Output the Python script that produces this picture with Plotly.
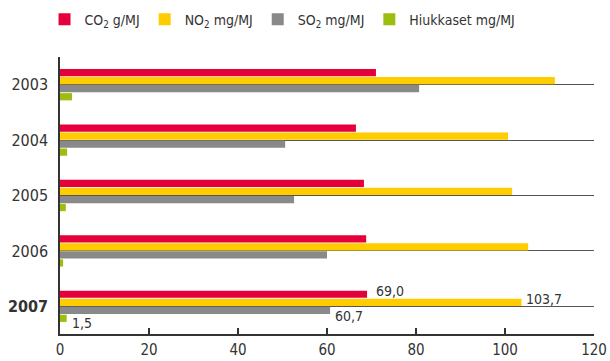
import plotly.graph_objects as go

years = ["2003", "2004", "2005", "2006", "2007"]
year_labels = ["2003", "2004", "2005", "2006", "<b>2007</b>"]
co2 = [71.0, 66.5, 68.3, 68.8, 69.0]
no2 = [111.2, 100.7, 101.6, 105.2, 103.7]
so2 = [80.7, 50.6, 52.6, 60.0, 60.7]
hiuk = [2.7, 1.6, 1.3, 0.7, 1.5]
series_names = ["CO<sub>2</sub> g/MJ", "NO<sub>2</sub> mg/MJ", "SO<sub>2</sub> mg/MJ", "Hiukkaset mg/MJ"]
colors = ["#E4003B", "#FFCC00", "#898989", "#9BBE10"]
x_ticks = [0, 20, 40, 60, 80, 100, 120]

FONT = "DejaVu Sans Condensed, Roboto, Arial, sans-serif"
TXT = "#333333"

fig = go.Figure()
for name, vals, col in zip(series_names, [co2, no2, so2, hiuk], colors):
    fig.add_trace(go.Bar(y=years, x=vals, name=name, orientation="h",
                         marker=dict(color=col, line=dict(width=0))))

# value labels for the last year
last_idx = len(years) - 1
label_offsets = [(7, 3), (3, 3), (3, -6), (3, -5)]
for vals, (xs, ys), slot in zip([co2, no2, so2, hiuk], label_offsets, [-1.5, -0.5, 0.5, 1.5]):
    v = vals[-1]
    fig.add_annotation(x=v, y=last_idx, xref="x", yref="y", text=f"{v:.1f}".replace(".", ","),
                       showarrow=False, xanchor="left", yanchor="middle",
                       xshift=xs, yshift=-slot * 8 + ys,
                       font=dict(family=FONT, size=14, color=TXT))

fig.update_layout(
    width=610, height=361,
    margin=dict(l=60, r=16, t=57, b=27),
    paper_bgcolor="white", plot_bgcolor="white",
    barmode="group", bargap=0.42, bargroupgap=0.1,
    font=dict(family=FONT, size=15, color=TXT),
    legend=dict(orientation="h", x=0.073, xanchor="left", y=0.99, yanchor="top",
                xref="container", yref="container",
                font=dict(family=FONT, size=14, color=TXT),
                traceorder="normal", itemwidth=30),
    showlegend=True,
)
fig.update_xaxes(range=[0, 120], tickvals=x_ticks, ticks="inside", ticklen=6,
                 tickwidth=1.5, tickcolor="#333", showline=True, linecolor="#333", linewidth=1.5,
                 showgrid=False, zeroline=False, automargin=False,
                 ticklabelstandoff=1, tickfont=dict(size=15, color=TXT))
fig.update_yaxes(type="category", categoryorder="array", categoryarray=years,
                 range=[len(years) - 0.5, -0.5], autorange=False,
                 tickmode="array", tickvals=years, ticktext=year_labels,
                 showline=True, linecolor="#333", linewidth=1.5,
                 showgrid=True, gridcolor="#555", gridwidth=1,
                 ticks="", ticklabelstandoff=7, automargin=False,
                 tickfont=dict(size=16, color=TXT))
fig.write_html("out.html", config={"displayModeBar": False},
               post_script="document.body.style.margin='0';")
